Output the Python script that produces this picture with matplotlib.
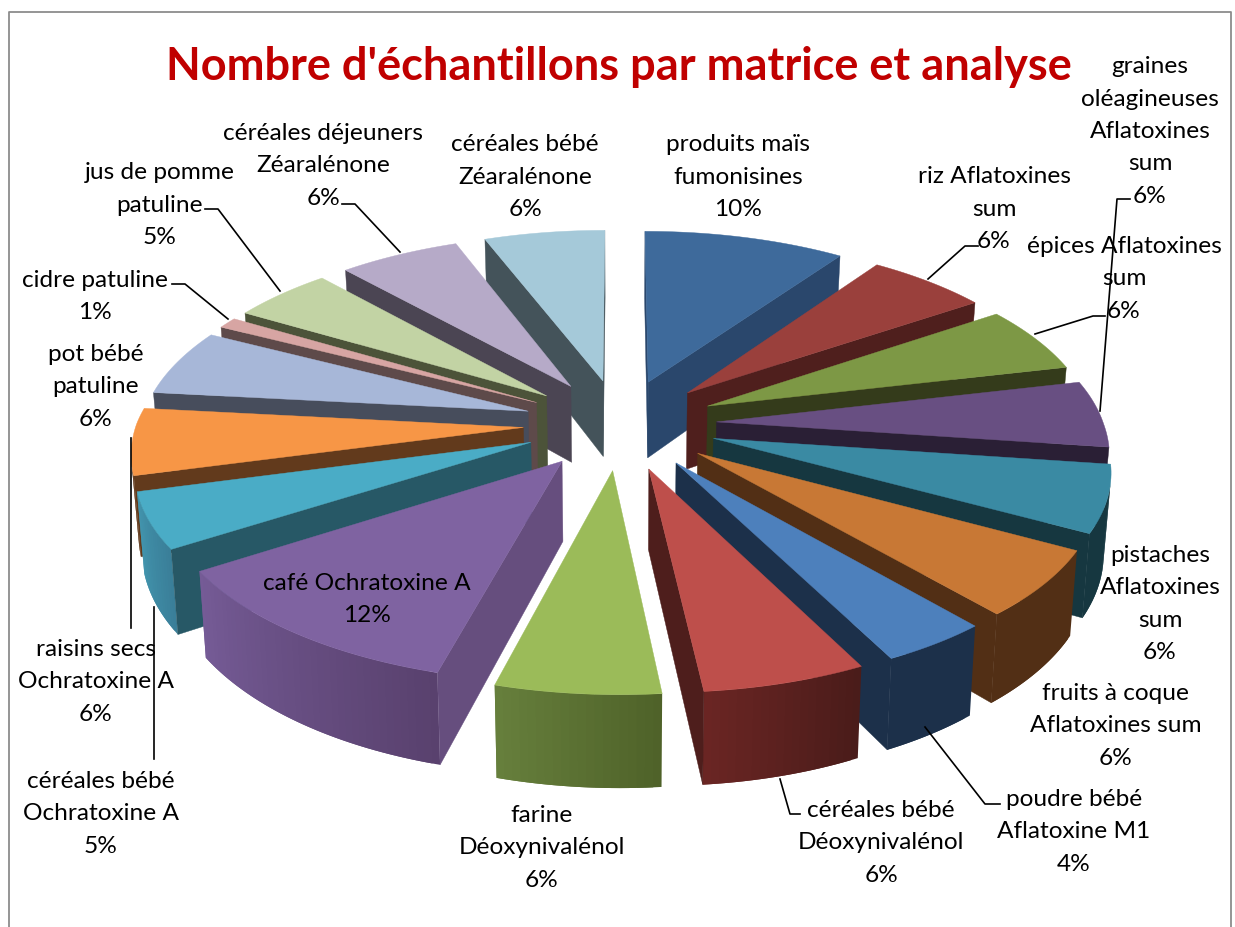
import numpy as np
import matplotlib
matplotlib.use("Agg")
import matplotlib.pyplot as plt
from matplotlib.patches import Polygon

# ---- data ----
names = [
    ["produits maïs", "fumonisines"],
    ["riz Aflatoxines", "sum"],
    ["épices Aflatoxines", "sum"],
    ["graines", "oléagineuses", "Aflatoxines", "sum"],
    ["pistaches", "Aflatoxines", "sum"],
    ["fruits à coque", "Aflatoxines sum"],
    ["poudre bébé", "Aflatoxine M1"],
    ["céréales bébé", "Déoxynivalénol"],
    ["farine", "Déoxynivalénol"],
    ["café Ochratoxine A"],
    ["céréales bébé", "Ochratoxine A"],
    ["raisins secs", "Ochratoxine A"],
    ["pot bébé", "patuline"],
    ["cidre patuline"],
    ["jus de pomme", "patuline"],
    ["céréales déjeuners", "Zéaralénone"],
    ["céréales bébé", "Zéaralénone"],
]
values = [10, 6, 6, 6, 6, 6, 4, 6, 6, 12, 5, 6, 6, 1, 5, 6, 6]
title = "Nombre d'échantillons par matrice et analyse"

# ---- style ----
top_colors = ["#3e6a9b", "#9a403c", "#7d9845", "#684f82", "#3a8aa3", "#c87835",
              "#4d80bc", "#be4f4b", "#9bbb59", "#7f63a1", "#4aacc6", "#f79646",
              "#a7b7d8", "#d7a5a3", "#c2d3a4", "#b6aac8", "#a5c9d9"]
side_colors = ["#2a476c", "#4f1f1d", "#343b1b", "#2a1f35", "#163740", "#522f15",
               "#1c304a", "#4e1e1c", "#3e4a22", "#664e7e", "#275866", "#623a1c",
               "#474d5c", "#5e4a4a", "#4c5339", "#4b4553", "#44535a"]
outer_from = ["#2a476c", "#4f1f1d", "#343b1b", "#2a1f35", "#163740", "#522f15",
              "#1c304a", "#4a1c1a", "#4f6229", "#59416e", "#3a7f99", "#623a1c",
              "#474d5c", "#5e4a4a", "#4c5339", "#4b4553", "#44535a"]
outer_to = ["#2a476c", "#4f1f1d", "#343b1b", "#2a1f35", "#163740", "#522f15",
            "#1c304a", "#6a2523", "#667f3c", "#755b96", "#4295ae", "#623a1c",
            "#474d5c", "#5e4a4a", "#4c5339", "#4b4553", "#44535a"]

label_x = [738, 994, 1124, 1150, 1160, 1116, 1074, 881, 542, 367, 101, 96, 96, 95, 160, 323, 525]
label_y = [142, 174, 244, 64, 553, 691, 797, 808, 813, 581, 779, 647, 352, 278, 170, 131, 142]
LINE_STEP = 32.5
BASE_OFFSET = 9
leaders = [
    [(928, 280), (965, 247), (978, 247)],
    [(1035, 335), (1093, 317), (1105, 317)],
    [(1100, 412), (1117, 200), (1130, 200)],
    [(925, 728), (985, 805), (1000, 805)],
    [(780, 780), (790, 815), (800, 815)],
    [(154, 608), (154, 760)],
    [(131, 439), (131, 629)],
    [(228, 320), (185, 285), (172, 285)],
    [(280, 292), (218, 210), (205, 210)],
    [(400, 253), (355, 205), (342, 205)],
]

CX, CY, A, B, PERSP, EXPL, DEPTH, SHRINK = 620, 425, 387, 181, 0.132, 0.25, 78, 0.985
FRONT_SHIFT = 7
FONT = "Lato"

fig = plt.figure(figsize=(12.35, 9.28), dpi=100, facecolor="white")
ax = fig.add_axes([0, 0, 1, 1])
ax.set_xlim(0, 1235)
ax.set_ylim(928, 0)
ax.axis("off")


def project(X, Y, bottom=False):
    s = 1.0 / (1.0 + PERSP * Y)
    x = (A * X - FRONT_SHIFT * min(Y, 0.0)) * s
    y = CY - B * Y * s
    if bottom:
        return CX + x * SHRINK, y + DEPTH * s
    return CX + x, y


def shoelace(p):
    p = np.asarray(p)
    x, y = p[:, 0], p[:, 1]
    return 0.5 * np.sum(x * np.roll(y, -1) - np.roll(x, -1) * y)


def mix(c0, c1, t):
    a = np.array(matplotlib.colors.to_rgb(c0))
    b = np.array(matplotlib.colors.to_rgb(c1))
    return tuple(a + (b - a) * t)


vals = np.array(values, float)
edges = np.concatenate([[0], np.cumsum(vals)]) / vals.sum() * 2 * np.pi
mids = 0.5 * (edges[:-1] + edges[1:])
order = np.argsort(-np.cos(mids))

z = 2
for i in order:
    a0, a1, m = edges[i], edges[i + 1], mids[i]
    ox, oy = EXPL * np.sin(m), EXPL * np.cos(m)
    th = np.linspace(a0, a1, max(4, int(np.degrees(a1 - a0)) + 1))
    Xs = np.concatenate([[ox], ox + np.sin(th)])
    Ys = np.concatenate([[oy], oy + np.cos(th)])
    top = [project(x, y) for x, y in zip(Xs, Ys)]
    bot = [project(x, y, True) for x, y in zip(Xs, Ys)]
    n = len(top)
    # outer wall: overlapping strips so no seams show
    for k in range(1, n - 1):
        if shoelace([top[k], top[k + 1], bot[k + 1], bot[k]]) >= 0:
            continue
        e = min(k + 2, n - 1)
        poly = [top[k]] + top[k + 1:e + 1] + bot[k + 1:e + 1][::-1] + [bot[k]]
        col = mix(outer_from[i], outer_to[i], (k - 1) / max(n - 3, 1))
        ax.add_patch(Polygon(poly, closed=True, facecolor=col, edgecolor="none", zorder=z))
        z += 1
    # the two straight cut faces
    for k, j in ((0, 1), (n - 1, 0)):
        quad = [top[k], top[j], bot[j], bot[k]]
        if shoelace(quad) < 0:
            ax.add_patch(Polygon(quad, closed=True, facecolor=side_colors[i],
                                 edgecolor=side_colors[i], lw=0.3, zorder=z))
            z += 1
    ax.add_patch(Polygon(top, closed=True, facecolor=top_colors[i], edgecolor=top_colors[i], lw=0.3, zorder=z))
    z += 1

# frame
ax.plot([9, 9, 1231, 1231], [928, 13, 13, 928], color="#8c8c8c", lw=1.3, zorder=z, clip_on=False)
z += 1
for pts in leaders:
    xs, ys = zip(*pts)
    ax.plot(xs, ys, color="black", lw=1.2, zorder=z)
z += 1

ax.text(619, 80, title, color="#c00000", fontsize=32.5, fontweight="bold", family=FONT,
        ha="center", va="baseline", zorder=z)

for i, lines in enumerate(names):
    rows = list(lines) + [f"{values[i]}%"]
    for r, row in enumerate(rows):
        ax.text(label_x[i], label_y[i] + r * LINE_STEP + BASE_OFFSET, row, color="black",
                fontsize=17.6, family=FONT, ha="center", va="baseline", zorder=z)

fig.savefig("out.png", dpi=100, facecolor="white")
